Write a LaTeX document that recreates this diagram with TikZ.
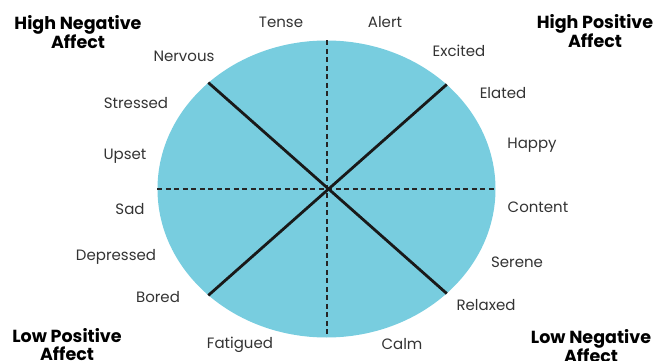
\documentclass[tikz,border=0pt]{standalone}
\usepackage{fontspec}
\setmainfont{Poppins}
\usetikzlibrary{shapes.geometric}
\definecolor{wheel}{HTML}{78CDDF}
\definecolor{lab}{HTML}{333333}
\tikzset{
  lbl/.style={inner sep=0pt, text=lab, font=\fontsize{15}{16}\selectfont},
  hdr/.style={inner sep=0pt, text=black, align=center, font=\bfseries\fontsize{17.5}{18}\selectfont},
  axis/.style={line width=2pt, dash pattern=on 5pt off 3.5pt, draw=black!85},
  diag/.style={line width=2.8pt, draw=black!90}
}
\begin{document}
\begin{tikzpicture}[x=1pt,y=-1pt]
\useasboundingbox (0,0) rectangle (657,361);
\node[ellipse, fill=wheel, inner sep=0pt, minimum width=338pt, minimum height=297pt] (E) at (326.5,189) {};
\draw[axis] (E.north) -- (E.south);
\draw[axis] (E.west) -- (E.east);
\draw[diag] (E.138.7) -- (E.-41.3);
\draw[diag] (E.41.3) -- (E.-138.7);
% labels
\node[lbl] (tense) at (281,22) {Tense};
\node[lbl] (alert) at (385,22) {Alert};
\node[lbl] (nervous) at (184,56) {Nervous};
\node[lbl] (excited) at (459,51) {Excited};
\node[lbl] (stressed) at (136,103) {Stressed};
\node[lbl] (elated) at (503,93) {Elated};
\node[lbl] (upset) at (125,156) {Upset};
\node[lbl] (happy) at (532,145) {Happy};
\node[lbl] (sad) at (130,209) {Sad};
\node[lbl] (content) at (538,207) {Content};
\node[lbl] (depressed) at (116,257) {Depressed};
\node[lbl] (serene) at (517,262) {Serene};
\node[lbl] (bored) at (158,297) {Bored};
\node[lbl] (relaxed) at (486,305) {Relaxed};
\node[lbl] (fatigued) at (240,345) {Fatigued};
\node[lbl] (calm) at (402,344) {Calm};
% headings
\node[hdr] (hna) at (78,32) {High Negative\\Affect};
\node[hdr] (hpa) at (595,31) {High Positive\\Affect};
\node[hdr] (lpa) at (67,345) {Low Positive\\Affect};
\node[hdr] (lna) at (591,346) {Low Negative\\Affect};
\end{tikzpicture}
\end{document}
